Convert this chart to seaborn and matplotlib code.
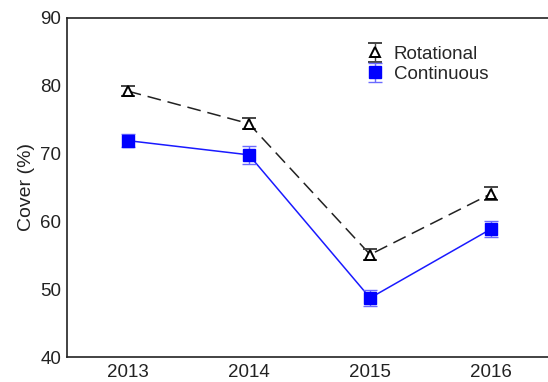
import matplotlib
matplotlib.use("Agg")
import matplotlib.pyplot as plt
import seaborn as sns
import pandas as pd

years = [2013, 2014, 2015, 2016]
rotational = [79.2, 74.4, 55.1, 64.1]
rotational_err = [0.7, 0.8, 0.8, 1.0]
continuous = [71.9, 69.8, 48.7, 58.9]
continuous_err = [1.0, 1.3, 1.2, 1.2]

sns.set_theme(style="white")
plt.rcParams["font.family"] = ["Liberation Sans", "DejaVu Sans"]

df = pd.DataFrame({
    "Year": years * 2,
    "Cover": rotational + continuous,
    "System": ["Rotational"] * 4 + ["Continuous"] * 4,
})

fig = plt.figure(figsize=(5.48, 3.82), dpi=100)
ax = fig.add_axes([0.1223, 0.0654, 0.885, 0.888])

sns.lineplot(data=df[df.System == "Rotational"], x="Year", y="Cover", ax=ax,
             color="#222222", lw=1.1, legend=False)
ax.lines[-1].set_dashes([9, 4.5])
sns.lineplot(data=df[df.System == "Continuous"], x="Year", y="Cover", ax=ax,
             color="#1a1aff", lw=1.1, legend=False)

h1 = ax.errorbar(years, rotational, yerr=rotational_err, fmt="^", ms=7,
                 mfc="white", mec="black", mew=1.4, ecolor="#444444",
                 elinewidth=1.0, capsize=5, capthick=1.0, label="Rotational", zorder=4)
h2 = ax.errorbar(years, continuous, yerr=continuous_err, fmt="s", ms=8,
                 mfc="#0000ff", mec="#0000ff", ecolor="#6a6aff",
                 elinewidth=1.0, capsize=5, capthick=1.0, label="Continuous", zorder=4)

ax.set_xlim(2012.5, 2016.5)
ax.set_ylim(40, 90)
ax.set_xticks(years)
ax.set_xticklabels([str(y) for y in years])
ax.set_yticks([40, 50, 60, 70, 80, 90])
ax.set_xlabel("")
ax.set_ylabel("Cover (%)", fontsize=14, color="#222222", labelpad=4)
ax.tick_params(axis="both", direction="in", length=3, width=1, labelsize=13.5,
               colors="#222222", labelcolor="#222222")
ax.tick_params(axis="x", pad=5)
ax.tick_params(axis="y", pad=4)

for side in ["left", "top", "bottom"]:
    ax.spines[side].set_color("#222222")
    ax.spines[side].set_linewidth(1.2)
ax.spines["right"].set_visible(False)

ax.legend(handles=[h1, h2], loc="upper left", bbox_to_anchor=(0.6, 0.94),
          frameon=False, fontsize=13.5, handlelength=1.0, handletextpad=0.5,
          labelspacing=0.15, borderaxespad=0)

fig.savefig("out.png", dpi=100)
